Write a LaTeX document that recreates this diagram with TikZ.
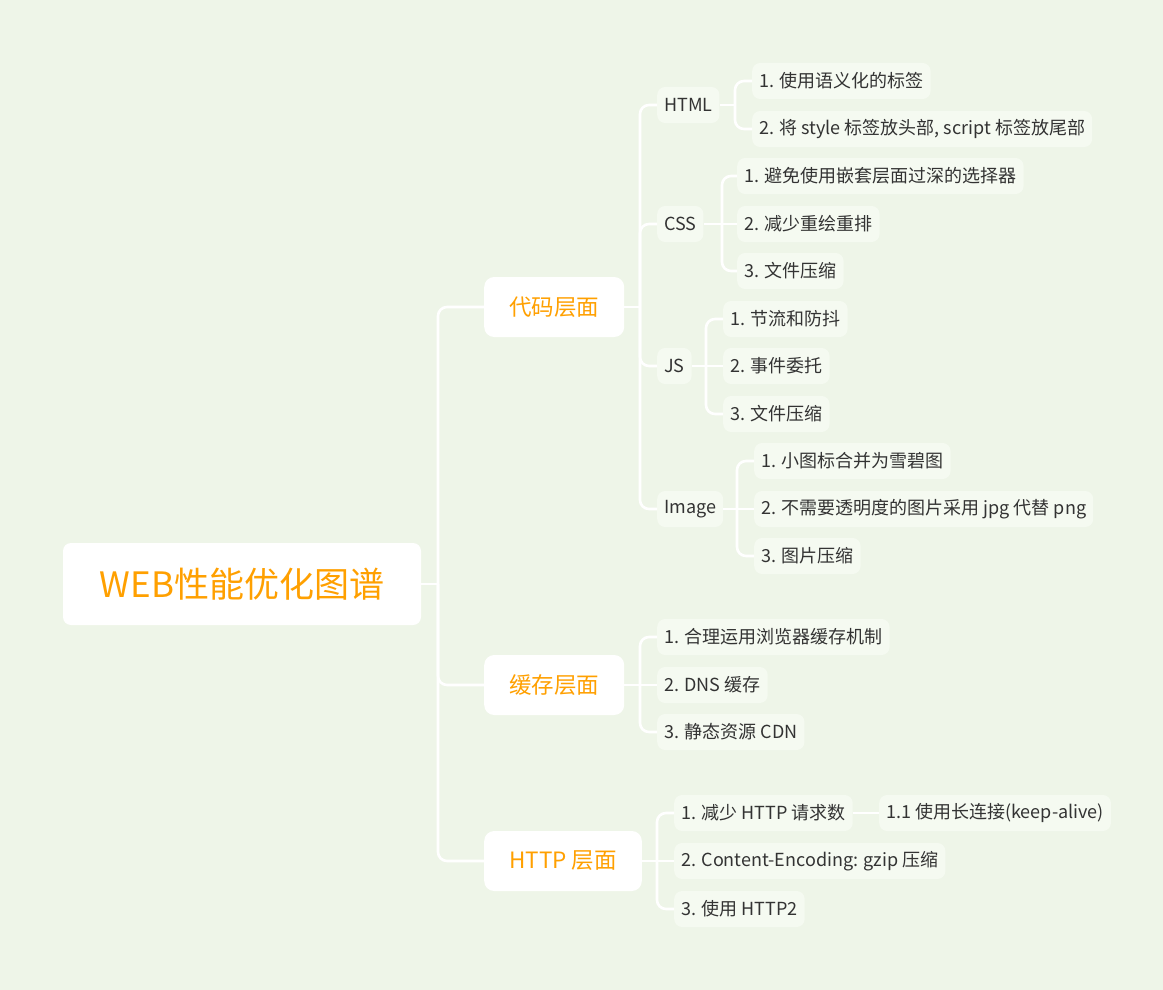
\documentclass[tikz,border=0pt]{standalone}
\usepackage{fontspec}
\setmainfont{Noto Sans CJK SC}
\definecolor{paper}{HTML}{EEF5E8}
\definecolor{leafbg}{HTML}{F5FAF1}
\definecolor{topic}{HTML}{FFA000}
\definecolor{ink}{HTML}{333333}
\begin{document}
\begin{tikzpicture}[x=1pt, y=-1pt]
    \tikzstyle{root}=[fill=white, rounded corners=8pt, text=topic,
                      font=\fontsize{35}{40}\selectfont,
                      minimum width=358pt, minimum height=82pt]
    \tikzstyle{main}=[fill=white, rounded corners=10pt, text=topic, anchor=west,
                      font=\fontsize{22.5}{27}\selectfont,
                      inner xsep=25pt, minimum height=60pt]
    \tikzstyle{sub}=[fill=leafbg, rounded corners=8pt, text=ink, anchor=west,
                     font=\fontsize{18}{22}\selectfont,
                     inner xsep=7pt, minimum height=36pt]
    \tikzstyle{link}=[draw=white, line width=2.6pt]
    \tikzstyle{branch}=[link, rounded corners=9pt,
                        to path={(\tikztostart) |- (\tikztotarget.west)}]

    \fill[paper] (0,0) rectangle (1163,990);

    \node[root] (web) at (242,584) {WEB性能优化图谱};
    \node[main] (code) at (484,307) {代码层面};
    \node[main] (cache) at (484,685) {缓存层面};
    \node[main] (http) at (484,861) {HTTP 层面};

    \node[sub] (html) at (657,105) {HTML};
    \node[sub] (css) at (657,224) {CSS};
    \node[sub] (js) at (657,366) {JS};
    \node[sub] (img) at (657,509) {Image};

    \node[sub] (html1) at (752,81) {1. 使用语义化的标签};
    \node[sub] (html2) at (752,129) {2. 将 style 标签放头部, script 标签放尾部};
    \node[sub] (css1) at (737,176) {1. 避免使用嵌套层面过深的选择器};
    \node[sub] (css2) at (737,224) {2. 减少重绘重排};
    \node[sub] (css3) at (737,271) {3. 文件压缩};
    \node[sub] (js1) at (723,319) {1. 节流和防抖};
    \node[sub] (js2) at (723,366) {2. 事件委托};
    \node[sub] (js3) at (723,414) {3. 文件压缩};
    \node[sub] (img1) at (754,461) {1. 小图标合并为雪碧图};
    \node[sub] (img2) at (754,509) {2. 不需要透明度的图片采用 jpg 代替 png};
    \node[sub] (img3) at (754,556) {3. 图片压缩};

    \node[sub] (cache1) at (657,637) {1. 合理运用浏览器缓存机制};
    \node[sub] (cache2) at (657,685) {2. DNS 缓存};
    \node[sub] (cache3) at (657,732) {3. 静态资源 CDN};

    \node[sub] (http1) at (674,813) {1. 减少 HTTP 请求数};
    \node[sub] (http2) at (674,861) {2. Content-Encoding: gzip 压缩};
    \node[sub] (http3) at (674,909) {3. 使用 HTTP2};
    \node[sub] (keep) at (879,813) {1.1 使用长连接(keep-alive)};

    \coordinate (jweb) at (438,584);
    \coordinate (jcode) at (640,307);
    \coordinate (jhtml) at (735,105);
    \coordinate (jcss) at (722,224);
    \coordinate (jjs) at (706,366);
    \coordinate (jimg) at (737,509);
    \coordinate (jcache) at (640,685);
    \coordinate (jhttp) at (657,861);

    \draw[link] (web) -- (jweb);
    \path (jweb) edge[branch] (code) edge[branch] (cache) edge[branch] (http);

    \draw[link] (code) -- (jcode);
    \path (jcode) edge[branch] (html) edge[branch] (css)
                  edge[branch] (js) edge[branch] (img);

    \draw[link] (html) -- (jhtml);
    \path (jhtml) edge[branch] (html1) edge[branch] (html2);
    \draw[link] (css) -- (jcss);
    \path (jcss) edge[branch] (css1) edge[link] (css2) edge[branch] (css3);
    \draw[link] (js) -- (jjs);
    \path (jjs) edge[branch] (js1) edge[link] (js2) edge[branch] (js3);
    \draw[link] (img) -- (jimg);
    \path (jimg) edge[branch] (img1) edge[link] (img2) edge[branch] (img3);

    \draw[link] (cache) -- (jcache);
    \path (jcache) edge[branch] (cache1) edge[link] (cache2) edge[branch] (cache3);

    \draw[link] (http) -- (jhttp);
    \path (jhttp) edge[branch] (http1) edge[link] (http2) edge[branch] (http3);
    \draw[link] (http1) -- (keep);
\end{tikzpicture}
\end{document}
